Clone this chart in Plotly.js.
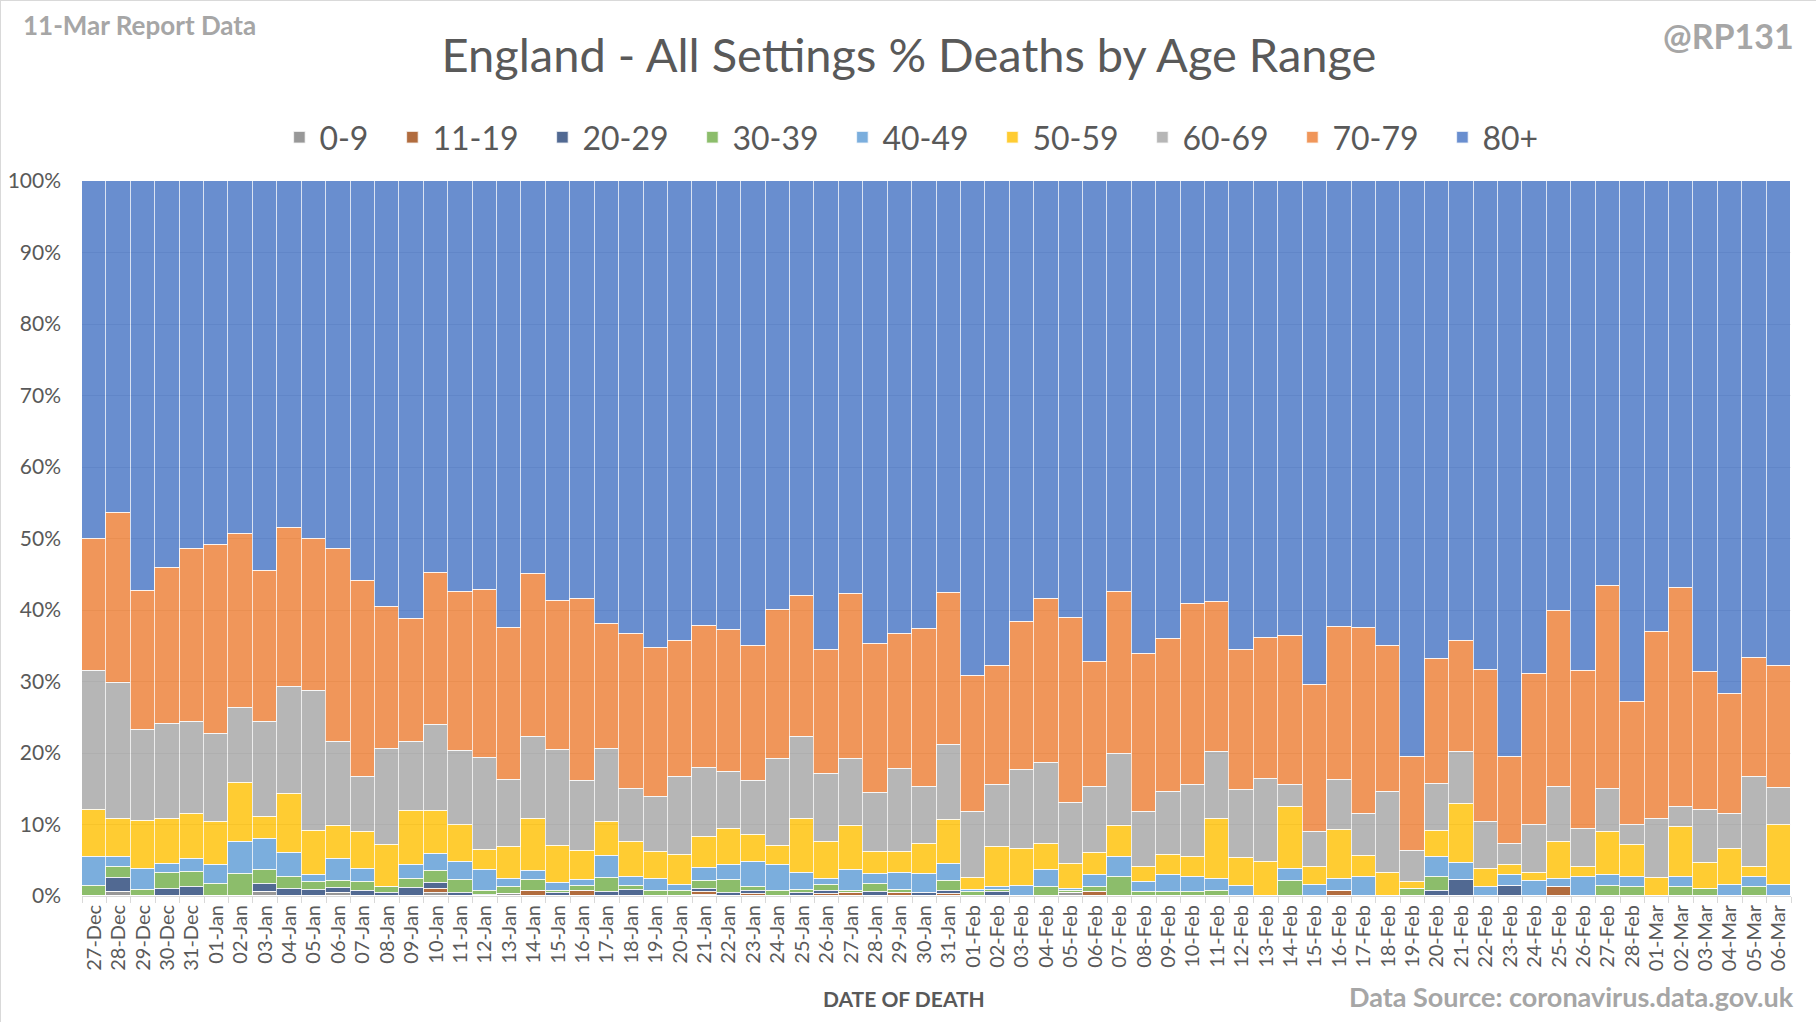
<!DOCTYPE html>
<html>
<head>
<meta charset="utf-8">
<script src="https://cdn.plot.ly/plotly-3.0.1.min.js"></script>
<style>
  html, body { margin: 0; padding: 0; background: #ffffff; }
  #chart { width: 1816px; height: 1022px; box-sizing: border-box; border: 1px solid #d9d9d9; }
</style>
</head>
<body>
<div id="chart"></div>
<script>
const dates = ["27-Dec","28-Dec","29-Dec","30-Dec","31-Dec",
  "01-Jan","02-Jan","03-Jan","04-Jan","05-Jan","06-Jan","07-Jan","08-Jan","09-Jan","10-Jan",
  "11-Jan","12-Jan","13-Jan","14-Jan","15-Jan","16-Jan","17-Jan","18-Jan","19-Jan","20-Jan",
  "21-Jan","22-Jan","23-Jan","24-Jan","25-Jan","26-Jan","27-Jan","28-Jan","29-Jan","30-Jan","31-Jan",
  "01-Feb","02-Feb","03-Feb","04-Feb","05-Feb","06-Feb","07-Feb","08-Feb","09-Feb","10-Feb",
  "11-Feb","12-Feb","13-Feb","14-Feb","15-Feb","16-Feb","17-Feb","18-Feb","19-Feb","20-Feb",
  "21-Feb","22-Feb","23-Feb","24-Feb","25-Feb","26-Feb","27-Feb","28-Feb",
  "01-Mar","02-Mar","03-Mar","04-Mar","05-Mar","06-Mar"];

const ageGroups = ["0-9","11-19","20-29","30-39","40-49","50-59","60-69","70-79","80+"];

const age0_9 = [0,0.6,0,0,0,0,0,0.5,0,0,0.4,0,0,0,0.4,0,0,0.3,0,0,0,0,0,0,0,0.2,0,0,0,0,
  0,0,0,0,0,0,0,0,0,0,0.4,0,0,0,0,0,0,0,0,0,0,0,0,0,0,0,0,0,0,0,0,0,0,0,0,0,0,0,0,0];
const age11_19 = [0,0,0,0,0,0,0,0,0,0,0,0,0,0,0.6,0,0,0,0.7,0,0.7,0,0,0,0,0.4,0,0.3,0,0,
  0.3,0.4,0,0.4,0,0.3,0,0,0,0,0,0.5,0,0,0,0,0,0,0,0,0,0.7,0,0,0,0,0,0,0,0,1.2,0,0,0,0,0,0,0,0,0];
const age20_29 = [0,1.9,0,1.0,1.2,0,0,1.2,1.0,0.8,0.7,0.7,0.4,1.1,0.8,0.4,0.2,0,0,0.4,0,0.6,0.8,0,0,0.4,0.4,0.4,0,0.4,
  0.4,0,0.5,0,0.4,0.4,0,0.5,0,0,0,0,0,0,0,0,0,0,0,0,0,0,0,0,0,0.7,2.3,0,1.4,0,0,0,0,0,0,0,0,0,0,0];
const age30_39 = [1.4,1.5,0.8,2.2,2.1,1.7,3.1,1.9,1.7,1.2,1.0,1.2,0.9,1.3,1.7,1.9,0.5,0.9,1.5,0.3,0.7,1.9,0.6,0.7,0.7,1.1,1.9,0.5,0.7,0.4,
  0.8,0.3,1.2,0.4,0,1.4,0.5,0.3,0,1.2,0.3,0.7,2.7,0.6,0.6,0.6,0.7,0,0,2.1,0,0,0,0,1.0,2.0,0,0,0,0,0,0,1.4,1.3,0,1.3,1.0,0,1.3,0];
const age40_49 = [4.1,1.4,3.0,1.3,1.9,2.6,4.5,4.4,3.3,1.0,3.1,1.9,0,1.9,2.4,2.5,2.9,1.2,1.3,1.1,0.9,3.1,1.3,1.7,0.9,1.8,2.0,3.6,3.6,2.4,
  0.9,2.9,1.4,2.4,2.7,2.4,0.3,0.5,1.4,2.4,0.3,1.8,2.8,1.4,2.3,2.1,1.7,1.4,0,1.7,1.5,1.7,2.7,0,0,2.8,2.3,1.2,1.5,2.1,1.2,2.6,1.5,1.4,0,1.4,0,1.5,1.4,1.5];
const age50_59 = [6.5,5.4,6.7,6.3,6.2,6.0,8.2,3.1,8.3,6.1,4.6,5.2,5.8,7.6,6.0,5.2,2.9,4.4,7.3,5.2,4.0,4.8,4.9,3.7,4.1,4.4,5.1,3.7,2.7,7.6,
  5.2,6.2,3.1,3.0,4.2,6.1,1.7,5.5,5.2,3.7,3.5,3.0,4.3,2.1,2.9,2.8,8.4,3.9,4.8,8.6,2.5,6.9,2.9,3.2,1.0,3.6,8.3,2.6,1.5,1.1,5.2,1.4,6.0,4.4,2.5,6.9,3.6,5.1,1.4,8.5];
const age60_69 = [19.4,19.0,12.7,13.2,12.9,12.4,10.5,13.2,15.0,19.6,11.7,7.6,13.4,9.6,12.0,10.3,12.8,9.4,11.4,13.4,9.8,10.1,7.3,7.8,11.0,9.6,7.9,7.6,12.1,11.5,
  9.4,9.3,8.2,11.5,8.0,10.5,9.2,8.7,11.0,11.3,8.5,9.3,10.1,7.7,8.8,10.0,9.3,9.5,11.5,3.1,4.9,6.9,5.8,11.3,4.3,6.5,7.3,6.6,2.9,6.7,7.7,5.4,6.0,2.8,8.3,2.8,7.4,4.9,12.5,5.1];
const age70_79 = [18.5,23.8,19.4,21.9,24.3,26.4,24.3,21.2,22.2,21.2,27.1,27.5,19.9,17.2,21.3,22.2,23.5,21.3,22.8,20.9,25.4,17.5,21.8,20.8,19.0,19.9,19.9,18.9,20.9,19.7,
  17.4,23.1,20.9,19.0,22.0,21.3,19.1,16.7,20.7,23.0,25.9,17.4,22.6,22.1,21.4,25.4,21.0,19.6,19.8,20.8,20.6,21.4,26.1,20.4,13.2,17.6,15.4,21.2,12.1,21.2,24.5,22.1,28.4,17.3,26.1,30.7,19.3,16.7,16.7,17.1];
const age80plus = [50.1,46.4,57.4,54.1,51.4,50.9,49.4,54.5,48.5,50.1,51.4,55.9,59.6,61.3,54.8,57.5,57.2,62.5,55.0,58.7,58.5,62.0,63.3,65.3,64.3,62.2,62.8,65.0,60.0,58.0,
  65.6,57.8,64.7,63.3,62.7,57.6,69.2,67.8,61.7,58.4,61.1,67.3,57.5,66.1,64.0,59.1,58.9,65.6,63.9,63.7,70.5,62.4,62.5,65.1,80.5,66.8,64.4,68.4,80.6,68.9,60.2,68.5,56.7,72.8,63.1,56.9,68.7,71.8,66.7,67.8];

const seriesValues = [age0_9, age11_19, age20_29, age30_39, age40_49, age50_59, age60_69, age70_79, age80plus];
const seriesColors = ["#7f7f7f","#9e480e","#264478","#70ad47","#5b9bd5","#ffc000","#a5a5a5","#ed7d31","#4472c4"];
const legendWidths = [68,105,105,105,105,105,105,105,null];

const FONT = "Lato, 'Open Sans', sans-serif";
const GREY = "#595959";

const traces = ageGroups.map((name, i) => {
  const t = {
    type: "bar",
    name: name,
    x: dates,
    y: seriesValues[i],
    opacity: 0.8,
    marker: { color: seriesColors[i], line: { color: "rgba(255,255,255,0.75)", width: 1.5 } },
    hoverinfo: "name+y"
  };
  if (legendWidths[i]) t.legendwidth = legendWidths[i];
  return t;
});

const layout = {
  width: 1816,
  height: 1022,
  paper_bgcolor: "#ffffff",
  plot_bgcolor: "#ffffff",
  barmode: "stack",
  barnorm: "percent",
  bargap: 0,
  margin: { l: 81, r: 26, t: 180, b: 127 },
  font: { family: FONT, color: GREY },
  title: {
    text: "England - All Settings % Deaths by Age Range",
    font: { family: FONT, size: 47, color: GREY },
    x: 0.5, xref: "container", xanchor: "center",
    y: 0.947, yref: "container", yanchor: "middle"
  },
  showlegend: true,
  legend: {
    orientation: "h",
    x: 0.1155, xanchor: "left",
    y: 1.061, yanchor: "middle",
    font: { family: FONT, size: 32, color: GREY },
    traceorder: "normal",
    itemwidth: 30
  },
  xaxis: {
    type: "category",
    tickangle: -90,
    tickfont: { family: FONT, size: 20, color: GREY },
    ticks: "outside",
    tickson: "boundaries",
    ticklen: 6,
    tickcolor: "#d9d9d9",
    showline: true,
    linecolor: "#d9d9d9",
    linewidth: 1,
    showgrid: false,
    automargin: false
  },
  yaxis: {
    range: [0, 100],
    dtick: 10,
    ticksuffix: "%",
    tickfont: { family: FONT, size: 21, color: GREY },
    ticklabelstandoff: 20,
    showgrid: true,
    gridcolor: "#d9d9d9",
    gridwidth: 1,
    zeroline: false,
    showline: false,
    ticks: "",
    automargin: false
  },
  annotations: [
    { text: "<b>11-Mar Report Data</b>", xref: "paper", yref: "paper", x: -0.0357, y: 1.218,
      xanchor: "left", yanchor: "middle", showarrow: false, font: { family: FONT, size: 26, color: "#a6a6a6" } },
    { text: "<b>@RP131</b>", xref: "paper", yref: "paper", x: 1.003, y: 1.203,
      xanchor: "right", yanchor: "middle", showarrow: false, font: { family: FONT, size: 34, color: "#a6a6a6" } },
    { text: "<b>Data Source: coronavirus.data.gov.uk</b>", xref: "paper", yref: "paper", x: 1.003, y: -0.141,
      xanchor: "right", yanchor: "middle", showarrow: false, font: { family: FONT, size: 27, color: "#a6a6a6" } },
    { text: "<b>DATE OF DEATH</b>", xref: "paper", yref: "paper", x: 0.481, y: -0.143,
      xanchor: "center", yanchor: "middle", showarrow: false, font: { family: FONT, size: 21, color: GREY } }
  ]
};

Plotly.newPlot("chart", traces, layout, { displayModeBar: false, responsive: false });
</script>
</body>
</html>
